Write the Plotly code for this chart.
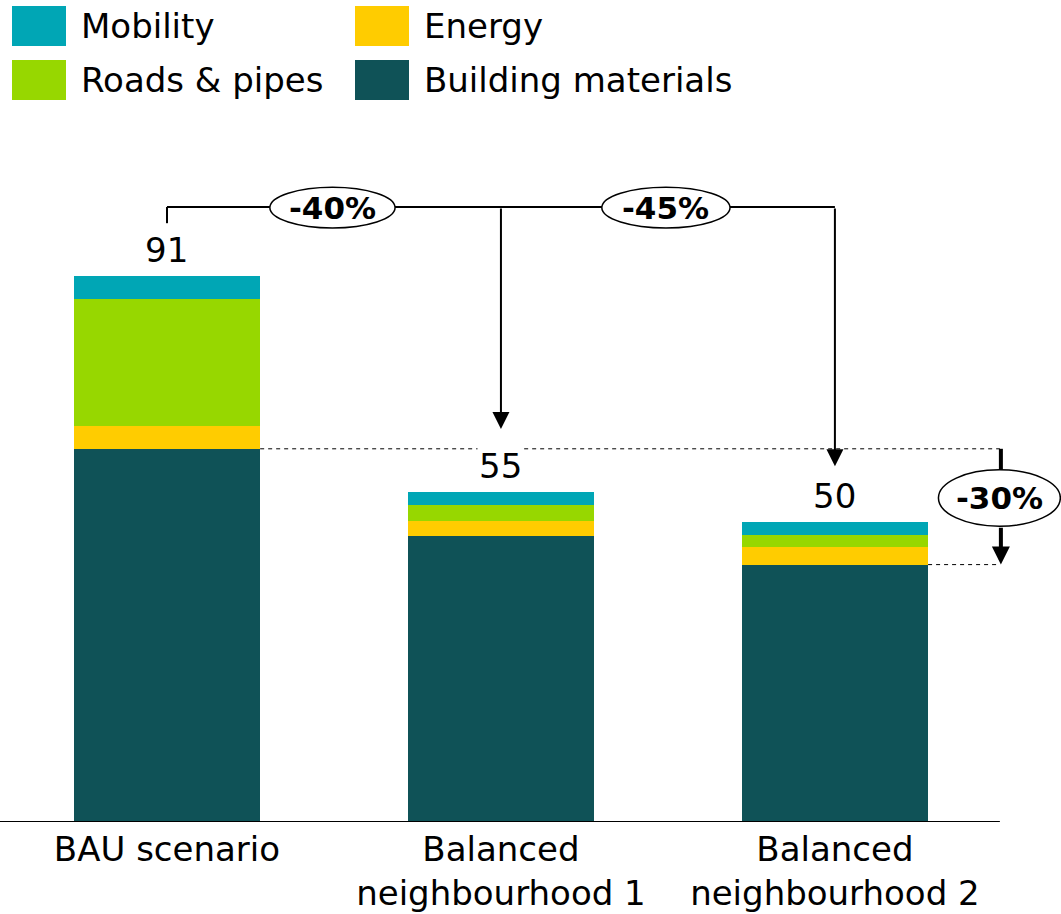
import plotly.graph_objects as go

# data
categories = ["BAU scenario", "Balanced<br>neighbourhood 1", "Balanced<br>neighbourhood 2"]
building = [62.2, 47.6, 42.9]
energy = [3.8, 2.5, 3.0]
roads = [21.2, 2.7, 2.0]
mobility = [3.8, 2.2, 2.1]
reductions = ["-40%", "-45%", "-30%"]

series = [
    ("Building materials", building, "#0F5257"),
    ("Energy", energy, "#FFCC00"),
    ("Roads & pipes", roads, "#97D700"),
    ("Mobility", mobility, "#00A6B5"),
]

FONT = "DejaVu Sans"
totals = [round(sum(v)) for v in zip(building, energy, roads, mobility)]

fig = go.Figure()
for name, vals, col in series:
    fig.add_trace(go.Bar(x=categories, y=vals, name=name, marker_color=col,
                         marker_line_width=0, showlegend=False))

shapes = []
ann = []

# total labels
for i, t in enumerate(totals):
    ann.append(dict(x=i, y=t + 4.3, text=str(t), showarrow=False, yanchor="middle",
                    font=dict(size=34, color="black", family=FONT), bgcolor="white"))

# baseline
shapes.append(dict(type="line", x0=-0.5, x1=2.494, y0=0, y1=0,
                   line=dict(color="black", width=2)))

# bracket on top
ytop = 102.5
shapes.append(dict(type="line", x0=0, x1=2, y0=ytop, y1=ytop, line=dict(color="black", width=2)))
shapes.append(dict(type="line", x0=0, x1=0, y0=ytop, y1=99.8, line=dict(color="black", width=2)))
for i in (1, 2):
    ann.append(dict(x=i, y=totals[i] + 10.5 - (i - 1) * 1.2, ax=i, ay=ytop, xref="x", yref="y",
                    axref="x", ayref="y", showarrow=True, arrowhead=2, arrowsize=1.7,
                    arrowwidth=2, arrowcolor="black", text="", standoff=0))

# dashed reference lines
bw = 0.279
shapes.append(dict(type="line", x0=0 + bw, x1=2.494, y0=building[0], y1=building[0],
                   line=dict(color="black", width=1, dash="4px,4px")))
shapes.append(dict(type="line", x0=2 + bw, x1=2.494, y0=building[2], y1=building[2],
                   line=dict(color="black", width=1, dash="4px,4px")))

# -30% arrow
xr = 2.497
shapes.append(dict(type="line", x0=xr, x1=xr, y0=building[0], y1=49.3,
                   line=dict(color="black", width=4)))
ann.append(dict(x=xr, y=building[2], ax=xr, ay=49.3, xref="x", yref="y", axref="x", ayref="y",
                showarrow=True, arrowhead=2, arrowsize=0.9, arrowwidth=4,
                arrowcolor="black", text="", standoff=0))

# ellipses with percentages
ellipses = [(0.308, 0.683, 99.0, 105.8), (1.302, 1.686, 99.0, 105.8), (2.31, 2.675, 49.3, 58.7)]
for (x0, x1, y0, y1), txt in zip(ellipses, reductions):
    shapes.append(dict(type="circle", x0=x0, x1=x1, y0=y0, y1=y1, fillcolor="white",
                       line=dict(color="black", width=1.5)))
    ann.append(dict(x=(x0 + x1) / 2, y=(y0 + y1) / 2, text="<b>" + txt + "</b>", showarrow=False,
                    font=dict(size=31, color="black", family=FONT)))

# manual legend
legend_pos = {"Mobility": (0, 0), "Energy": (1, 0), "Roads & pipes": (0, 1), "Building materials": (1, 1)}
col_x = [12, 355]
row_y = [26, 80]
W, H = 1061, 672
for name, vals, col in series:
    c, r = legend_pos[name]
    x0 = col_x[c]
    yc = row_y[r]
    shapes.append(dict(type="rect", xref="paper", yref="paper",
                       x0=x0 / W, x1=(x0 + 54) / W,
                       y0=(822 - yc - 20) / H, y1=(822 - yc + 20) / H,
                       fillcolor=col, line_width=0))
    ann.append(dict(xref="paper", yref="paper", x=(x0 + 67) / W, y=(822 - yc) / H,
                    text=name, showarrow=False, xanchor="left", yanchor="middle",
                    font=dict(size=34, color="black", family=FONT)))

fig.update_layout(
    width=1061, height=914,
    margin=dict(l=0, r=0, t=150, b=92),
    barmode="stack", bargap=0.443,
    plot_bgcolor="white", paper_bgcolor="white",
    shapes=shapes, annotations=ann,
    font=dict(family=FONT, color="black"),
    showlegend=False,
)
fig.update_xaxes(range=[-0.5, 2.677], showgrid=False, showline=False, ticks="",
                 ticklabelstandoff=4, automargin=False,
                 tickfont=dict(size=34, color="black", family=FONT))
fig.update_yaxes(range=[0, 112], visible=False, automargin=False)

fig.write_html("out.html", post_script="document.body.style.margin='0';",
               config={"displayModeBar": False})
